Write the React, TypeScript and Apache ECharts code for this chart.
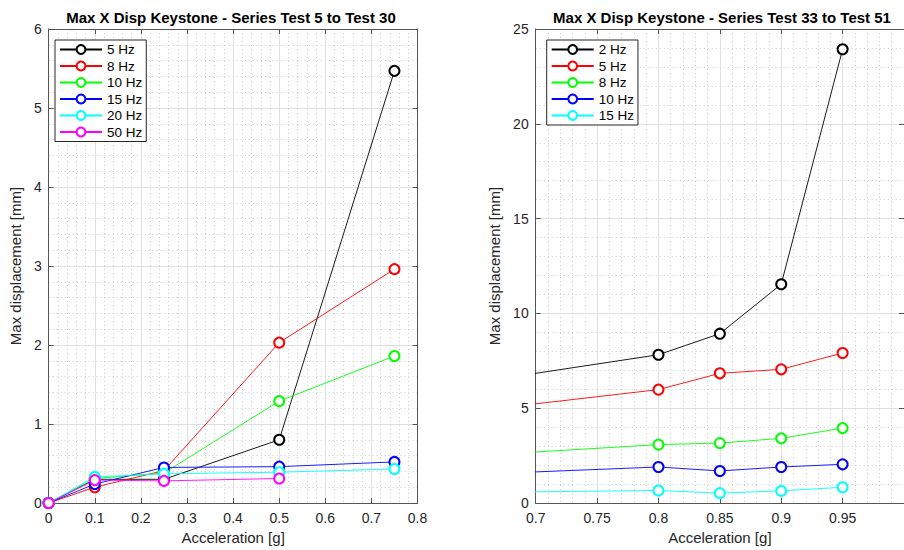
import React, { useEffect, useRef } from "react";
import * as echarts from "echarts";

// ---------- data ----------
const leftTitle = "Max X Disp Keystone - Series Test 5 to Test 30";
const rightTitle = "Max X Disp Keystone - Series Test 33 to Test 51";
const xLabel = "Acceleration [g]";
const yLabel = "Max displacement [mm]";

const leftAccel = [0, 0.1, 0.25, 0.5, 0.75];
const leftNames = ["5 Hz", "8 Hz", "10 Hz", "15 Hz", "20 Hz", "50 Hz"];
const left5Hz = [0, 0.3, 0.3, 0.8, 5.47];
const left8Hz = [0, 0.2, 0.41, 2.03, 2.96];
const left10Hz = [0, 0.31, 0.38, 1.29, 1.86];
const left15Hz = [0, 0.24, 0.45, 0.46, 0.52];
const left20Hz = [0, 0.33, 0.37, 0.39, 0.43];
const left50Hz = [0, 0.29, 0.28, 0.31];
const leftColors = ["#000000", "#ff0000", "#00ff00", "#0000ff", "#00ffff", "#ff00ff"];

const rightAccel = [0.6, 0.8, 0.85, 0.9, 0.95];
const rightNames = ["2 Hz", "5 Hz", "8 Hz", "10 Hz", "15 Hz"];
const right2Hz = [5.86, 7.82, 8.93, 11.54, 23.93];
const right5Hz = [4.48, 5.98, 6.84, 7.05, 7.91];
const right8Hz = [2.3, 3.08, 3.16, 3.41, 3.95];
const right10Hz = [1.38, 1.9, 1.69, 1.9, 2.04];
const right15Hz = [0.52, 0.66, 0.52, 0.64, 0.83];
const rightColors = ["#000000", "#ff0000", "#00ff00", "#0000ff", "#00ffff"];

const FONT = "'Liberation Sans', Arial, Helvetica, sans-serif";
const AXIS_COLOR = "#555555";
const LABEL_COLOR = "#262626";

type AxisCfg = {
  xmin: number; xmax: number; xint: number;
  ymin: number; ymax: number; yint: number;
  yNameGap: number;
};

function buildOption(
  title: string,
  titleX: number,
  grid: { left: number; right: number; top: number; bottom: number },
  ax: AxisCfg,
  names: string[],
  colors: string[],
  xs: number[],
  ys: number[][],
  legendPos: { left: number; top: number }
) {
  const mainLine = { show: true, onZero: false, lineStyle: { color: AXIS_COLOR, width: 1 } };
  const tick = { show: true, inside: true, length: 5, lineStyle: { color: AXIS_COLOR, width: 1 } };
  const splitLine = { show: true, lineStyle: { color: "#e0e0e0", width: 1 } };
  const minorSplit = { show: true, lineStyle: { color: "#cccccc", width: 1, type: [1, 3] } };
  return {
    animation: false,
    textStyle: { fontFamily: FONT },
    title: {
      text: title,
      left: titleX,
      textAlign: "center",
      top: 10,
      padding: 0,
      textStyle: { fontFamily: FONT, fontSize: 15, fontWeight: "bold", color: "#000" },
    },
    grid: { ...grid, containLabel: false },
    legend: {
      show: true,
      orient: "vertical",
      left: legendPos.left,
      top: legendPos.top,
      itemWidth: 42,
      itemHeight: 11,
      itemGap: 2.5,
      padding: [2.5, 4, 2.5, 4],
      borderColor: "#262626",
      borderWidth: 1,
      backgroundColor: "#ffffff",
      textStyle: { fontFamily: FONT, fontSize: 13.5, color: "#000" },
      data: names,
    },
    xAxis: [
      {
        type: "value",
        position: "bottom",
        min: ax.xmin,
        max: ax.xmax,
        interval: ax.xint,
        name: xLabel,
        nameLocation: "middle",
        nameGap: 27,
        nameTextStyle: { fontFamily: FONT, fontSize: 15, color: LABEL_COLOR },
        axisLine: mainLine,
        axisTick: tick,
        axisLabel: { fontFamily: FONT, fontSize: 14, color: LABEL_COLOR, margin: 8, showMaxLabel: ax.xmax <= 0.8 },
        splitLine,
        minorTick: { show: false, splitNumber: 5 },
        minorSplitLine: minorSplit,
      },
      {
        type: "value",
        position: "top",
        min: ax.xmin,
        max: ax.xmax,
        interval: ax.xint,
        axisLine: mainLine,
        axisTick: tick,
        axisLabel: { show: false },
        splitLine: { show: false },
      },
    ],
    yAxis: [
      {
        type: "value",
        position: "left",
        min: ax.ymin,
        max: ax.ymax,
        interval: ax.yint,
        name: yLabel,
        nameLocation: "middle",
        nameGap: ax.yNameGap,
        nameTextStyle: { fontFamily: FONT, fontSize: 15, color: LABEL_COLOR },
        axisLine: mainLine,
        axisTick: tick,
        axisLabel: { fontFamily: FONT, fontSize: 14, color: LABEL_COLOR, margin: 7 },
        splitLine,
        minorTick: { show: false, splitNumber: 5 },
        minorSplitLine: minorSplit,
      },
      {
        type: "value",
        position: "right",
        min: ax.ymin,
        max: ax.ymax,
        interval: ax.yint,
        axisLine: mainLine,
        axisTick: tick,
        axisLabel: { show: false },
        splitLine: { show: false },
      },
    ],
    series: names.map((name, i) => ({
      type: "line",
      name,
      xAxisIndex: 0,
      yAxisIndex: 0,
      data: ys[i].map((v, j) => [xs[j], v]),
      symbol: "emptyCircle",
      symbolSize: 10,
      clip: true,
      color: colors[i],
      lineStyle: { color: colors[i], width: 0.9 },
      itemStyle: { color: colors[i], borderColor: colors[i], borderWidth: 1.3 },
      emphasis: { disabled: true },
    })),
  };
}

export default function App() {
  const leftRef = useRef<HTMLDivElement>(null);
  const rightRef = useRef<HTMLDivElement>(null);

  useEffect(() => {
    if (!leftRef.current || !rightRef.current) return;
    const lc = echarts.init(leftRef.current, undefined, { renderer: "svg" });
    const rc = echarts.init(rightRef.current, undefined, { renderer: "svg" });

    lc.setOption(
      buildOption(
        leftTitle,
        231,
        { left: 44.5, right: 34.5, top: 29, bottom: 45 },
        { xmin: 0, xmax: 0.8, xint: 0.1, ymin: 0, ymax: 6, yint: 1, yNameGap: 18 },
        leftNames,
        leftColors,
        leftAccel,
        [left5Hz, left8Hz, left10Hz, left15Hz, left20Hz, left50Hz],
        { left: 55, top: 40 }
      ) as any
    );

    rc.setOption(
      buildOption(
        rightTitle,
        270,
        { left: 83.7, right: -4.9, top: 29, bottom: 45.5 },
        { xmin: 0.7, xmax: 1.0, xint: 0.05, ymin: 0, ymax: 25, yint: 5, yNameGap: 25 },
        rightNames,
        rightColors,
        rightAccel,
        [right2Hz, right5Hz, right8Hz, right10Hz, right15Hz],
        { left: 94.7, top: 40 }
      ) as any
    );

    return () => {
      lc.dispose();
      rc.dispose();
    };
  }, []);

  return (
    <div style={{ position: "absolute", left: 0, top: 0, width: 904, height: 550, background: "#fff", overflow: "hidden" }}>
      <div ref={leftRef} style={{ position: "absolute", left: 0, top: 0, width: 452, height: 550 }} />
      <div ref={rightRef} style={{ position: "absolute", left: 452, top: 0, width: 452, height: 550 }} />
    </div>
  );
}
